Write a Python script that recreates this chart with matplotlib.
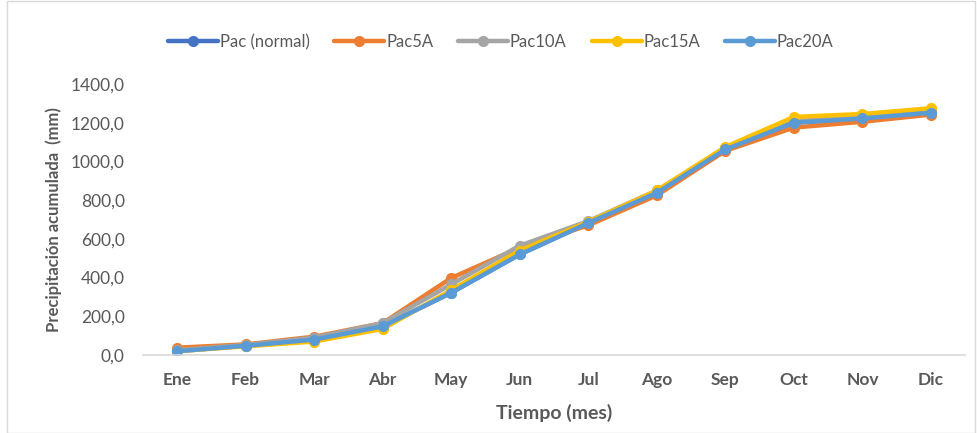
import matplotlib
matplotlib.use("Agg")
import matplotlib.pyplot as plt
from matplotlib.patches import Rectangle

months = ["Ene", "Feb", "Mar", "Abr", "May", "Jun", "Jul", "Ago", "Sep", "Oct", "Nov", "Dic"]

pac_normal = [20, 48, 80, 148, 322, 520, 682, 838, 1062, 1200, 1222, 1252]
pac5a = [38, 55, 95, 165, 398, 555, 670, 825, 1055, 1175, 1205, 1242]
pac10a = [25, 52, 90, 165, 365, 565, 692, 850, 1068, 1210, 1230, 1258]
pac15a = [20, 45, 70, 135, 335, 540, 688, 850, 1075, 1230, 1245, 1275]
pac20a = [20, 48, 80, 148, 322, 520, 682, 838, 1062, 1200, 1222, 1252]

series = [
    ("Pac (normal)", pac_normal, "#4472C4"),
    ("Pac5A", pac5a, "#ED7D31"),
    ("Pac10A", pac10a, "#A5A5A5"),
    ("Pac15A", pac15a, "#FFC000"),
    ("Pac20A", pac20a, "#5B9BD5"),
]

plt.rcParams["font.family"] = ["Lato", "DejaVu Sans"]

fig = plt.figure(figsize=(9.78, 4.33), dpi=100)
ax = fig.add_axes([0.146, 0.180, 0.841, 0.626])

x = list(range(len(months)))
for name, vals, col in series:
    ax.plot(x, vals, color=col, lw=3.2, marker="o", ms=7, label=name,
            solid_capstyle="round")

ax.set_xlim(-0.5, len(months) - 0.5)
ax.set_ylim(0, 1400)
ax.set_yticks(range(0, 1401, 200))
ax.set_yticklabels([f"{v},0" for v in range(0, 1401, 200)])
ax.set_xticks(x)
ax.set_xticklabels(months, fontweight="bold")

for s in ["top", "right", "left"]:
    ax.spines[s].set_visible(False)
ax.spines["bottom"].set_color("#d9d9d9")
ax.spines["bottom"].set_linewidth(1.2)
ax.tick_params(axis="both", length=0, colors="#595959", labelsize=12.5)
ax.tick_params(axis="x", pad=12)
ax.tick_params(axis="y", pad=13)

ax.set_xlabel("Tiempo (mes)", fontsize=14, fontweight="bold", color="#595959", labelpad=12)
ax.set_ylabel("Precipitación acumulada  (mm)", fontsize=12, fontweight="bold",
              color="#595959", labelpad=6)

leg = fig.legend(loc="center", bbox_to_anchor=(0.512, 0.903), ncol=5, frameon=False,
                 fontsize=12, handlelength=3.0, columnspacing=1.5, handletextpad=0.1,
                 labelcolor="#595959")

fig.patches.append(Rectangle((0.007, 0.0), 0.99, 0.998, transform=fig.transFigure,
                             fill=False, edgecolor="#d9d9d9", lw=1))

fig.savefig("out.png", dpi=100, facecolor="white")
